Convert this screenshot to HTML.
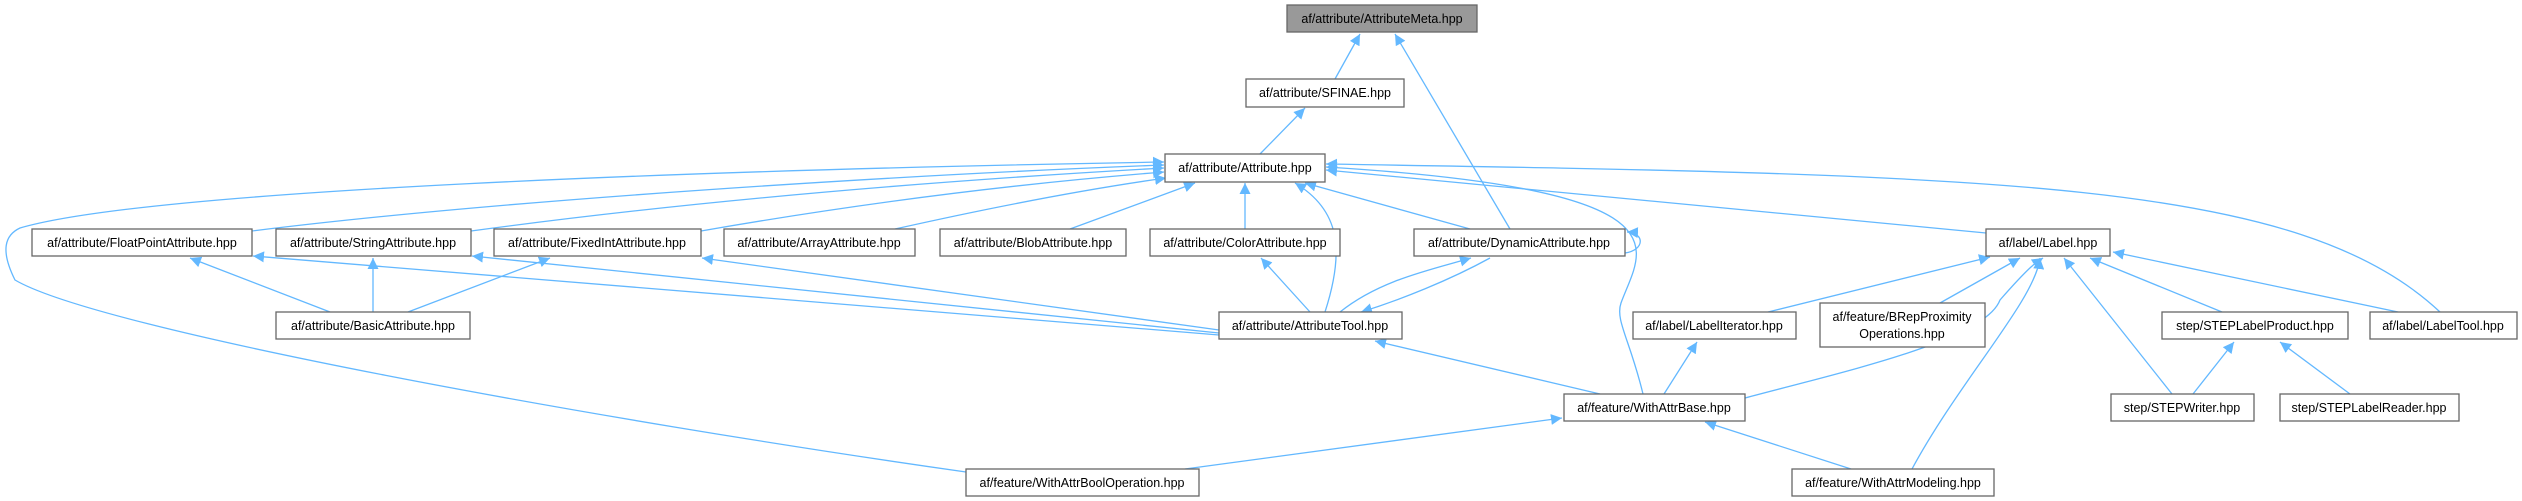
<!DOCTYPE html>
<html><head><meta charset="utf-8"><style>
html,body{margin:0;padding:0;background:#fff;}
svg{display:block;}
text{font-family:"Liberation Sans",sans-serif;font-size:12.5px;fill:#000;}
.n{fill:#fff;stroke:#666;stroke-width:1.3;}
.e{fill:none;stroke:#63b8ff;stroke-width:1.3;}
</style></head><body>
<svg width="2522" height="501" viewBox="0 0 2522 501" xmlns="http://www.w3.org/2000/svg">
<defs><marker id="a" viewBox="0 0 10 10" refX="10" refY="5" markerWidth="11" markerHeight="11" markerUnits="userSpaceOnUse" orient="auto"><path d="M0,0 L10,5 L0,10 z" fill="#63b8ff"/></marker></defs>
<g class="e" marker-end="url(#a)">
<path d="M1335,79 L1360,34"/>
<path d="M1510,229 L1395,34"/>
<path d="M1260,154 L1305,108"/>
<path d="M252,231 C500,200 900,175 1164,165"/>
<path d="M471,231 C700,200 950,180 1164,168"/>
<path d="M701,231 C850,205 1000,185 1164,172"/>
<path d="M895,229 C980,210 1080,190 1166,178"/>
<path d="M1070,229 L1195,183"/>
<path d="M1245,229 L1245,183"/>
<path d="M1470,229 L1305,183"/>
<path d="M1325,312 C1345,250 1340,210 1295,183"/>
<path d="M1986,233 L1326,170"/>
<path d="M2440,312 C2300,180 2000,175 1326,164"/>
<path d="M1643,394 C1630,340 1615,320 1621,303 C1640,250 1700,190 1326,167"/>
<path d="M966,472 C600,420 100,330 15,280 C0,250 5,235 20,228 C150,190 700,170 1164,162"/>
<path d="M330,312 L190,258"/>
<path d="M373,312 L373,258"/>
<path d="M408,312 L550,258"/>
<path d="M1219,335 L253,256"/>
<path d="M1219,333 L472,256"/>
<path d="M1219,330 L702,258"/>
<path d="M1310,312 L1261,258"/>
<path d="M1340,312 C1380,280 1430,270 1471,258"/>
<path d="M1490,258 C1450,280 1400,300 1361,312"/>
<path d="M1625,253 C1645,250 1645,233 1627,232"/>
<path d="M1600,394 L1375,341"/>
<path d="M1768,312 L1990,257"/>
<path d="M1940,303 L2020,258"/>
<path d="M1745,398 C1850,370 1985,340 2000,300 C2035,260 2040,260 2043,258"/>
<path d="M1912,469 C1960,380 2035,300 2040,258"/>
<path d="M2172,394 L2064,258"/>
<path d="M2222,312 L2090,258"/>
<path d="M2398,312 L2113,252"/>
<path d="M1664,394 L1697,342"/>
<path d="M1185,469 L1562,418"/>
<path d="M1851,469 L1705,422"/>
<path d="M2193,394 L2234,342"/>
<path d="M2350,394 L2280,342"/>
</g>
<g>
<rect x="1287" y="5" width="190" height="27" fill="#999" stroke="#666" stroke-width="1.3"/><text x="1382" y="23" text-anchor="middle">af/attribute/AttributeMeta.hpp</text>
<rect class="n" x="1246" y="79" width="158" height="28"/><text x="1325" y="97" text-anchor="middle">af/attribute/SFINAE.hpp</text>
<rect class="n" x="1165" y="154" width="160" height="28"/><text x="1245" y="172" text-anchor="middle">af/attribute/Attribute.hpp</text>
<rect class="n" x="32" y="229" width="220" height="27"/><text x="142" y="247" text-anchor="middle">af/attribute/FloatPointAttribute.hpp</text>
<rect class="n" x="276" y="229" width="195" height="27"/><text x="373" y="247" text-anchor="middle">af/attribute/StringAttribute.hpp</text>
<rect class="n" x="494" y="229" width="207" height="27"/><text x="597" y="247" text-anchor="middle">af/attribute/FixedIntAttribute.hpp</text>
<rect class="n" x="724" y="229" width="191" height="27"/><text x="819" y="247" text-anchor="middle">af/attribute/ArrayAttribute.hpp</text>
<rect class="n" x="940" y="229" width="186" height="27"/><text x="1033" y="247" text-anchor="middle">af/attribute/BlobAttribute.hpp</text>
<rect class="n" x="1150" y="229" width="190" height="27"/><text x="1245" y="247" text-anchor="middle">af/attribute/ColorAttribute.hpp</text>
<rect class="n" x="1414" y="229" width="211" height="27"/><text x="1519" y="247" text-anchor="middle">af/attribute/DynamicAttribute.hpp</text>
<rect class="n" x="1986" y="229" width="124" height="27"/><text x="2048" y="247" text-anchor="middle">af/label/Label.hpp</text>
<rect class="n" x="276" y="312" width="194" height="27"/><text x="373" y="330" text-anchor="middle">af/attribute/BasicAttribute.hpp</text>
<rect class="n" x="1219" y="312" width="183" height="27"/><text x="1310" y="330" text-anchor="middle">af/attribute/AttributeTool.hpp</text>
<rect class="n" x="1633" y="312" width="163" height="27"/><text x="1714" y="330" text-anchor="middle">af/label/LabelIterator.hpp</text>
<rect class="n" x="1820" y="303" width="165" height="44"/><text x="1902" y="321" text-anchor="middle">af/feature/BRepProximity</text><text x="1902" y="338" text-anchor="middle">Operations.hpp</text>
<rect class="n" x="2162" y="312" width="186" height="27"/><text x="2255" y="330" text-anchor="middle">step/STEPLabelProduct.hpp</text>
<rect class="n" x="2370" y="312" width="147" height="27"/><text x="2443" y="330" text-anchor="middle">af/label/LabelTool.hpp</text>
<rect class="n" x="1564" y="394" width="181" height="27"/><text x="1654" y="412" text-anchor="middle">af/feature/WithAttrBase.hpp</text>
<rect class="n" x="2111" y="394" width="143" height="27"/><text x="2182" y="412" text-anchor="middle">step/STEPWriter.hpp</text>
<rect class="n" x="2280" y="394" width="179" height="27"/><text x="2369" y="412" text-anchor="middle">step/STEPLabelReader.hpp</text>
<rect class="n" x="966" y="469" width="233" height="27"/><text x="1082" y="487" text-anchor="middle">af/feature/WithAttrBoolOperation.hpp</text>
<rect class="n" x="1792" y="469" width="202" height="27"/><text x="1893" y="487" text-anchor="middle">af/feature/WithAttrModeling.hpp</text>
</g>
</svg>
</body></html>
